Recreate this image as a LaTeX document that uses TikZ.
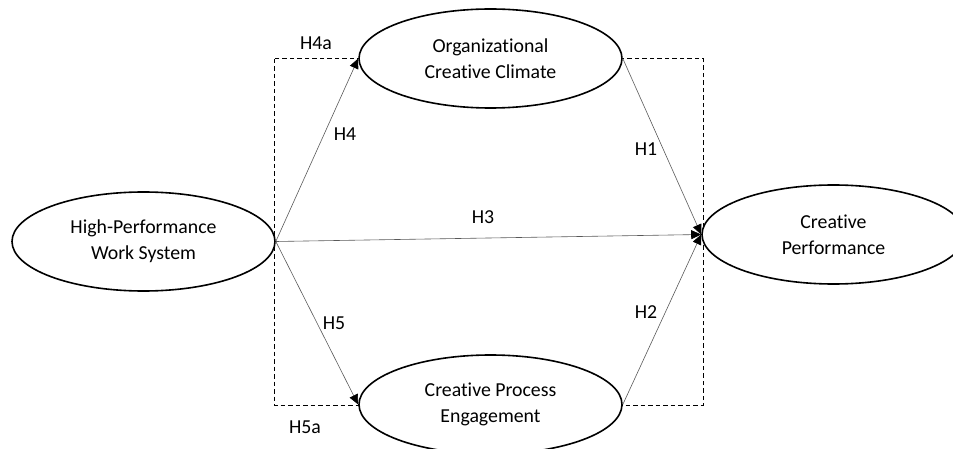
\documentclass[tikz,border=0pt]{standalone}
\usepackage{fontspec}
\setmainfont{Carlito}[Ligatures=NoCommon]
\usetikzlibrary{shapes.geometric,arrows.meta}
\begin{document}
\begin{tikzpicture}[x=1pt,y=-1pt,
  construct/.style={ellipse,draw=black,line width=1.6pt,fill=white,
    minimum width=263pt,minimum height=99pt,inner sep=0pt,
    align=center,font=\fontsize{19.8}{26}\selectfont},
  path/.style={draw=black!65,line width=0.6pt,
    -{Triangle[length=10pt,width=9pt,fill=black,color=black]}},
  hyp/.style={font=\fontsize{19.8}{24}\selectfont,inner sep=0pt},
  frame/.style={draw=black,line width=1pt,dash pattern=on 4.5pt off 3pt}]
  \useasboundingbox (0,0) rectangle (953,449);
  \clip (0,0) rectangle (953,449);
  % mediation frame
  \draw[frame] (274,59) rectangle (703,405);
  % constructs
  \node[construct] (hpws) at (143.5,241.5) {High-Performance\\Work System};
  \node[construct] (occ) at (490.5,58.5) {Organizational\\Creative Climate};
  \node[construct] (cpe) at (490.5,404.5) {Creative Process\\Engagement};
  \node[construct] (cp) at (833.5,234.5) {Creative\\Performance};
  % hypothesised paths
  \draw[path] (hpws.east) -- (occ.west);
  \draw[path] (hpws.east) -- (cpe.west);
  \draw[path] (hpws.east) -- (cp.west);
  \draw[path] (occ.east) -- (cp.west);
  \draw[path] (cpe.east) -- (cp.west);
  % labels
  \node[hyp] (h4a) at (316,43) {H4a};
  \node[hyp] (h4) at (345,134) {H4};
  \node[hyp] (h1) at (646,149) {H1};
  \node[hyp] (h3) at (483,217) {H3};
  \node[hyp] (h5) at (334,323) {H5};
  \node[hyp] (h2) at (646,312) {H2};
  \node[hyp] (h5a) at (305,427) {H5a};
\end{tikzpicture}
\end{document}
